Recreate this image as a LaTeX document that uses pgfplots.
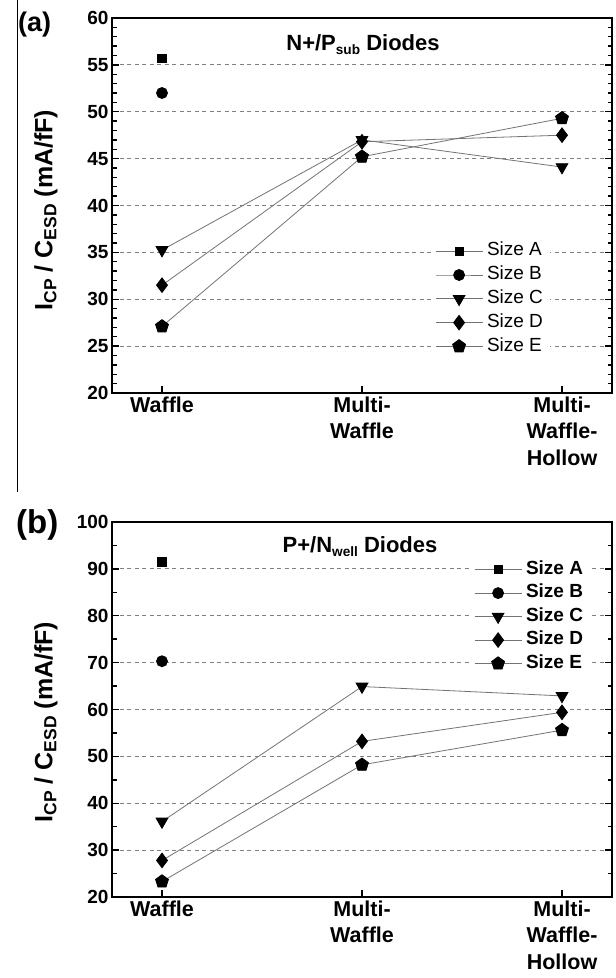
\documentclass[border=0pt]{standalone}
\usepackage{pgfplots}
\pgfplotsset{compat=1.18}
\usepackage{fontspec}
\setmainfont{Liberation Sans}
\newcommand{\sub}[1]{\raisebox{-0.35ex}{\scalebox{0.62}{#1}}}
\newcommand{\ysub}[1]{\raisebox{-0.3ex}{\scalebox{0.7}{#1}}}
\pgfplotsset{
  myaxis/.style={
    scale only axis, width=500pt, height=375pt,
    anchor=south west,
    xmin=-0.25, xmax=2.25,
    xtick={0,1,2},
    xticklabels={Waffle,{Multi-\\Waffle},{Multi-\\Waffle-\\Hollow}},
    xticklabel style={align=center, font=\bfseries\fontsize{21.5}{26.5}\selectfont},
    yticklabel style={font=\bfseries\fontsize{19}{19}\selectfont},
    /pgf/number format/assume math mode=true,
    xtick pos=lower, ytick pos=both, yticklabel pos=left,
    tick align=inside,
    major tick length=7pt, minor tick length=4.5pt,
    every tick/.style={black, line width=1.4pt},
    axis line style={line width=2pt},
    ymajorgrids,
    major grid style={gray, line width=0.8pt, dash pattern=on 4pt off 3.5pt},
    legend cell align=left,
    legend image code/.code={\draw[mark repeat=2,mark phase=2] plot coordinates {(0pt,0pt) (23.5pt,0pt) (47pt,0pt)};},
    every axis plot/.append style={color=black!55, line width=0.8pt},
  },
  sA/.style={mark=square*, mark size=4.2pt, mark options={black, fill=black}},
  sB/.style={mark=*, mark size=5.5pt, mark options={black, fill=black}},
  sC/.style={mark=triangle*, mark size=6.8pt, mark options={black, fill=black, rotate=180}},
  sD/.style={mark=diamond*, mark size=7.3pt, mark options={black, fill=black}},
  sE/.style={mark=pentagon*, mark size=6.8pt, mark options={black, fill=black}},
}
\begin{document}
\begin{tikzpicture}
\path[use as bounding box] (0pt,0pt) rectangle (616pt,-978pt);
\draw[line width=0.8pt] (17pt,0pt) -- (17pt,-492pt);
% ---------- panel (a)
\begin{axis}[myaxis, at={(112pt,-393pt)},
  ymin=20, ymax=60, ytick={20,25,...,60}, minor y tick num=4,
  legend style={at={(axis description cs:0.640,0.41)}, anchor=north west,
    draw=none, fill=white, inner sep=3pt, row sep=6.3pt,
    font=\fontsize{19}{19}\selectfont,
    nodes={inner ysep=0pt, inner xsep=4pt, text height=13.5pt, text depth=4pt}},
]
\addplot[sA] coordinates {(0,55.7)};
\addlegendentry{Size A}
\addplot[sB] coordinates {(0,52.0)};
\addlegendentry{Size B}
\addplot[sC] coordinates {(0,35.25) (1,47.0) (2,44.1)};
\addlegendentry{Size C}
\addplot[sD] coordinates {(0,31.5) (1,46.8) (2,47.5)};
\addlegendentry{Size D}
\addplot[sE] coordinates {(0,27.1) (1,45.2) (2,49.3)};
\addlegendentry{Size E}
\end{axis}
\node[anchor=base, font=\bfseries\fontsize{22}{22}\selectfont, inner sep=0pt] at (363pt,-50pt) {N+/P\sub{sub} Diodes};
\node[anchor=base west, font=\bfseries\fontsize{27}{27}\selectfont, inner sep=0pt] at (18pt,-31pt) {(a)};
\node[rotate=90, font=\bfseries\fontsize{25}{25}\selectfont, inner sep=0pt] at (46pt,-210pt) {I\ysub{CP} / C\ysub{ESD} (mA/fF)};
% ---------- panel (b)
\begin{axis}[myaxis, at={(112pt,-897pt)},
  ymin=20, ymax=100, ytick={20,30,...,100}, minor y tick num=1,
  legend style={at={(axis description cs:0.718,0.905)}, anchor=north west,
    draw=none, fill=white, inner sep=3pt, row sep=6.0pt,
    font=\bfseries\fontsize{19}{19}\selectfont,
    nodes={inner ysep=0pt, inner xsep=4pt, text height=13.5pt, text depth=4pt}},
]
\addplot[sA] coordinates {(0,91.5)};
\addlegendentry{Size A}
\addplot[sB] coordinates {(0,70.3)};
\addlegendentry{Size B}
\addplot[sC] coordinates {(0,36.1) (1,64.9) (2,62.9)};
\addlegendentry{Size C}
\addplot[sD] coordinates {(0,27.8) (1,53.2) (2,59.4)};
\addlegendentry{Size D}
\addplot[sE] coordinates {(0,23.3) (1,48.2) (2,55.6)};
\addlegendentry{Size E}
\end{axis}
\node[anchor=base, font=\bfseries\fontsize{22}{22}\selectfont, inner sep=0pt] at (360pt,-552pt) {P+/N\sub{well} Diodes};
\node[anchor=base west, font=\bfseries\fontsize{33}{33}\selectfont, inner sep=0pt] at (16pt,-533pt) {(b)};
\node[rotate=90, font=\bfseries\fontsize{25}{25}\selectfont, inner sep=0pt] at (46pt,-722pt) {I\ysub{CP} / C\ysub{ESD} (mA/fF)};
\end{tikzpicture}
\end{document}
